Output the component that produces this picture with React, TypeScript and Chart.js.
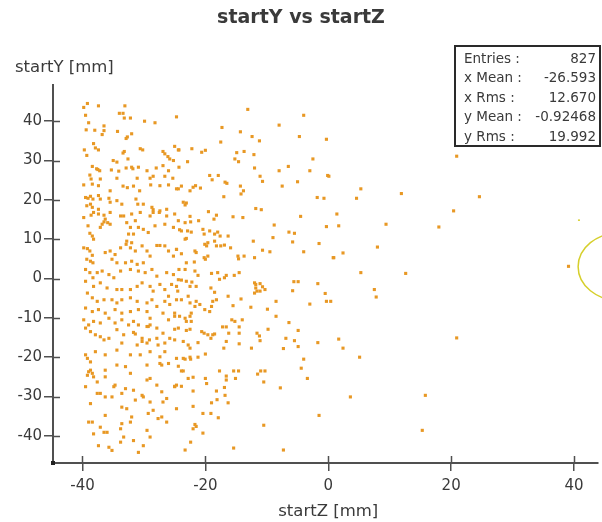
import { useEffect, useRef } from "react";
import { Chart, registerables } from "chart.js";

Chart.register(...registerables);

// ---- text ----
const chartTitle = "startY vs startZ";
const xTitle = "startZ [mm]";
const yTitle = "startY [mm]";

// ---- axes ----
const xRange = [-44.8, 43.9];
const yRange = [-46.9, 49.2];
const xTickValues = [-40, -20, 0, 20, 40];
const yTickValues = [-40, -30, -20, -10, 0, 10, 20, 30, 40];

// ---- statistics box ----
const statLabels = ["Entries :", "x Mean :", "x Rms :", "y Mean :", "y Rms :"];
const statValues = ["827", "-26.593", "12.670", "-0.92468", "19.992"];

// ---- hits: [startZ, startY] in mm ----
const hitsUpperBack: [number, number][] = [
  [-39.2,44.5],[-39.8,43.5],[-37.4,43.9],[-33.1,43.9],[-39.5,41.5],[-34.0,42],[-33.4,42],[-33.2,40.8],[-32.2,40.8],[-29.9,40],
  [-28.2,39.6],[-39.0,39.6],[-39.4,37.8],[-38.0,37.7],[-36.5,38.8],[-36.5,37.6],[-36.8,36.6],[-34.3,37.4],[-32.0,36.8],[-32.7,36.0],
  [-32.9,35.6],[-39.7,32.7],[-38.2,34.3],[-37.9,33.2],[-37.4,32.7],[-33.2,32.3],[-33.4,31.9],[-30.6,33.0],[-30.2,32.7],[-26.9,32.3],
  [-26.6,31.7],[-26.1,31.0],[-25.8,30.4],[-25.0,33.6],[-24.4,32.7],[-39.3,31.3],[-35.0,30.0],[-34.4,29.6],[-32.6,30.4],[-37.7,27.9],
  [-37.5,27.7],[-37.2,27.4],[-38.4,28.5],[-35.3,27.6],[-34.1,27.3],[-32.9,28.1],[-32.0,28.3],[-31.8,27.9],[-30.9,28.3],[-29.5,27.4],
  [-28.0,28.1],[-26.9,28.7],[-26.0,27.4],[-25.2,30.0],[-24.3,28.3],[-38.8,26.3],[-38.6,25.3],[-37.1,25.3],[-34.4,25.5],[-31.1,25.5],
  [-29.0,25.5],[-28.5,26.0],[-26.6,26.0],[-25.3,25.5],[-39.8,23.8],[-38.4,24.0],[-37.4,23.6],[-33.4,23.5],[-32.7,23.1],[-31.7,23.5],
  [-30.7,22.3],[-28.9,23.8],[-27.4,23.6],[-26.0,23.8],[-24.7,22.8],[-35.5,22.3],[-39.5,20.6],[-39.1,20.4],[-38.7,20.9],[-38.3,20.2],
  [-37.4,21.1],[-37.1,20.2],[-35.7,20.4],[-35.5,19.4],[-34.4,19.8],[-33.6,18.9],[-31.3,20.2],[-31.0,18.9],[-30.1,18.9],[-28.7,18.1],
  [-28.5,17.5],[-27.5,16.8],[-26.3,17.6],[-39.3,18.5],[-38.7,18.9],[-38.4,18.1],[-37.4,17.6],[-36.5,16.1],[-35.5,16.8],[-33.3,15.9],
  [-32.0,16.4],[-30.6,16.8],[-29.0,15.9],
];

const hitsMiddleBack: [number, number][] = [
  [-39.8,15.5],[-38.6,16.1],[-38.2,16.8],[-36.8,13.8],[-36.5,14.4],[-36.3,15.1],[-35.9,14.2],[-35.5,13.8],[-37.4,16.4],[-37.1,13.0],
  [-39.1,13.4],[-38.8,11.5],[-38.4,10.8],[-38.2,10.0],[-33.8,15.9],[-32.8,14.2],[-32.2,13.0],[-31.4,14.7],[-32.5,11.3],[-31.7,11.3],
  [-32.8,9.5],[-32.0,9.1],[-30.9,13.0],[-30.1,12.5],[-29.3,11.7],[-28.5,16.8],[-27.4,17.2],[-26.3,15.9],[-25.0,16.4],[-24.4,14.7],
  [-28.2,13.4],[-26.6,13.8],[-25.2,13.0],[-39.8,7.8],[-39.2,7.6],[-38.8,7.0],[-38.4,5.9],[-39.3,4.9],[-38.7,4.4],[-38.3,4.0],
  [-36.3,6.6],[-35.5,7.0],[-34.7,6.1],[-35.2,4.9],[-34.4,4.0],[-33.8,7.8],[-32.9,8.7],[-32.2,7.8],[-31.4,7.0],[-30.3,8.3],
  [-29.5,7.0],[-29.0,5.7],[-27.9,8.4],[-27.4,8.4],[-26.6,8.3],[-26.0,7.0],[-25.2,5.7],[-24.7,7.4],[-33.0,4.0],[-32.0,4.4],
  [-31.1,3.6],[-30.1,4.0],[-39.5,2.3],[-38.8,1.5],[-38.3,0.2],[-37.6,1.5],[-36.8,1.9],[-35.7,1.0],[-34.9,0.2],[-33.8,1.9],
  [-32.2,2.3],[-30.9,1.9],[-29.8,1.5],[-28.7,2.3],[-27.9,0.6],[-26.3,1.5],[-25.2,1.0],[-39.5,-0.7],[-38.2,-2.0],[-37.1,-1.1],
  [-36.0,-2.4],[-34.4,-2.8],[-33.6,-2.8],[-32.2,-2.8],[-31.1,-2.0],[-30.3,-1.1],[-29.0,-2.0],[-28.5,-3.2],[-27.4,-1.5],[-26.6,-2.8],
  [-26.0,-4.5],[-25.5,-1.5],[-39.2,-3.7],[-38.4,-4.9],[-37.6,-5.8],[-36.5,-5.4],[-35.2,-5.4],[-34.4,-6.2],[-33.6,-5.4],[-32.2,-4.9],
  [-31.1,-5.8],[-29.5,-6.2],[-28.7,-5.4],[-27.9,-7.1],[-26.6,-5.8],[-25.8,-6.6],[-24.7,-5.4],[-39.5,-7.5],[-38.4,-8.4],[-37.4,-7.9],
  [-36.3,-8.8],[-34.7,-7.9],[-33.6,-8.8],[-32.2,-8.4],[-30.9,-7.9],[-29.5,-8.4],[-29.0,-10.1],[-26.9,-8.8],[-26.0,-10.5],[-25.0,-9.6],
  [-39.8,-10.5],[-39.0,-11.8],[-38.2,-10.9],[-37.1,-11.3],[-35.7,-10.1],[-34.7,-11.3],[-33.6,-10.5],[-32.5,-11.8],[-31.7,-10.9],[-30.9,-11.8],
  [-29.5,-12.2],[-29.0,-11.8],[-27.9,-12.6],[-39.5,-12.6],[-38.7,-13.5],[-37.9,-14.3],[-37.1,-14.8],[-34.4,-13.0],[-33.3,-14.3],[-31.7,-13.7],
  [-31.4,-14.1],[-30.3,-15.2],[-29.3,-12.2],[-26.9,-13.9],
];

const hitsLowerBack: [number, number][] = [
  [-33.6,-16.4],[-31.1,-16.9],[-30.3,-16.0],[-29.5,-16.4],[-27.7,-16.9],[-26.6,-16.4],[-25.8,-15.2],[-25.0,-15.6],[-36.5,-15.6],[-35.7,-15.2],
  [-27.9,-15.2],[-29.1,-15.6],[-39.5,-19.4],[-39.2,-20.3],[-38.7,-21.2],[-37.9,-18.6],[-36.3,-19.4],[-34.4,-18.2],[-32.2,-19.4],[-30.6,-19.4],
  [-29.0,-18.6],[-27.4,-19.9],[-26.6,-18.6],[-24.7,-20.3],[-39.0,-23.7],[-38.7,-23.3],[-38.4,-24.1],[-38.2,-25.0],[-39.2,-24.6],[-36.3,-23.3],
  [-36.3,-25.0],[-34.4,-22.0],[-33.0,-22.4],[-32.2,-24.1],[-29.5,-22.0],[-27.4,-21.6],[-27.1,-22.0],[-26.0,-21.6],[-37.6,-26.3],[-34.7,-27.1],
  [-34.9,-27.5],[-33.6,-29.2],[-33.0,-28.0],[-31.7,-28.4],[-31.4,-30.9],[-29.5,-25.8],[-29.0,-25.4],[-27.9,-27.1],[-27.1,-28.8],[-25.0,-27.5],
  [-24.7,-27.1],[-39.5,-27.5],[-37.6,-29.2],[-37.1,-29.2],[-38.7,-31.8],[-36.3,-30.1],[-35.2,-30.1],[-30.3,-29.7],[-30.1,-30.1],[-29.0,-31.4],
  [-26.9,-31.4],[-26.3,-30.5],[-36.3,-34.8],[-33.6,-32.7],[-32.8,-33.1],[-32.0,-35.2],[-29.3,-34.3],[-28.5,-33.5],[-27.7,-35.6],[-27.1,-35.2],
  [-26.3,-36.5],[-24.7,-33.1],[-39.0,-36.5],[-38.4,-36.5],[-37.1,-37.8],[-38.2,-39.5],[-36.5,-39.1],[-36.0,-39.1],[-33.8,-38.2],[-33.6,-36.9],
  [-32.2,-36.5],[-29.5,-38.6],[-33.3,-40.3],[-31.7,-41.2],[-30.1,-42.5],[-33.8,-41.6],[-37.4,-42.5],[-35.7,-42.9],[-35.2,-43.7],[-30.9,-44.2],
  [-29.0,-40.3],
];

const hitsUpperMid: [number, number][] = [
  [-13.1,43.0],[-4.0,41.5],[-24.7,41.1],[-8.0,39.0],[-17.3,38.4],[-14.3,37.3],[-12.4,36.1],[-11.2,35.0],[-4.7,36.1],[-0.3,35.4],
  [-17.5,34.7],[-24.3,32.7],[-22.2,33.0],[-20.6,32.1],[-20.0,32.6],[-14.9,32.0],[-13.7,32.3],[-12.1,31.5],[-15.2,30.4],[-14.6,29.7],
  [-22.9,29.7],[-2.5,30.4],[-12.0,28.1],[-8.0,27.4],[-6.5,28.5],[-3.0,27.4],[-19.3,26.2],[-17.9,26.2],[-18.9,25.1],[-11.1,26.0],
  [-10.7,24.7],[-0.1,26.2],[-16.8,24.5],[-16.5,24.2],[-5.0,24.6],[-7.5,23.5],[-24.4,22.8],[-23.9,23.5],[-22.5,22.3],[-22.0,23.2],
  [-21.6,23.6],[-20.8,23.0],[-14.3,23.5],[-13.8,22.3],[-14.2,21.5],[-17.0,20.8],[-1.8,20.6],[-0.7,20.4],[-23.6,19.4],[-23.3,18.7],
  [-23.1,19.2],[-19.5,17.0],[-18.2,16.1],[-18.6,15.1],[-15.5,15.7],[-13.9,15.5],[-11.8,17.8],[-10.9,17.5],[-4.5,15.8],[-22.5,15.8],
  [-22.4,14.4],[-23.3,14.2],[-21.1,14.7],[-8.8,13.6],[-0.3,13.2],[-24.2,12.4],[-23.9,12.1],[-22.9,12.1],[-22.3,11.8],[-20.4,12.5],
  [-20.2,11.3],[-19.3,12.1],[-18.5,11.3],[-18.0,11.8],[-17.6,10.8],[-16.3,10.8],[-12.2,9.5],[-9.0,10.4],[-6.4,11.8],[-5.5,11.5],
  [-5.8,9.3],[-1.5,8.9],[-23.3,10.0],[-23.1,10.2],[-24.7,7.4],[-23.9,6.3],[-21.7,7.0],[-21.5,6.6],[-20.1,8.7],[-19.8,8.3],
  [-19.6,9.1],[-18.5,9.5],[-18.2,8.3],[-17.5,8.3],[-16.9,8.5],[-15.9,7.8],[-14.7,5.7],[-14.6,5.0],[-13.7,5.7],[-12.0,5.3],
  [-10.7,7.2],[-9.5,6.8],[-4.0,6.8],[0.8,5.3],[-23.1,4.0],[-21.8,4.2],[-20.2,5.3],[-20.0,4.9],[-19.6,5.7],[-21.7,1.9],
  [-19.0,1.3],[-18.0,1.5],[-16.6,0.8],[-15.3,0.8],[-14.5,1.5],[-24.3,2.3],[-23.3,2.3],
];

const hitsLowerMid: [number, number][] = [
  [-24.4,-0.3],[-23.9,-0.4],[-23.1,-0.7],[-22.2,-0.9],[-21.2,0.8],[-17.7,-0.2],[-16.9,0.2],[-24.7,-2.0],[-24.5,-3.2],[-22.5,-2.0],
  [-21.5,-2.0],[-19.1,-2.4],[-18.5,-3.5],[-12.0,-1.1],[-11.8,-1.5],[-11.1,-1.3],[-10.7,-2.1],[-12.0,-3.7],[-11.6,-3.2],[-11.1,-3.2],
  [-10.3,-2.8],[-11.8,-2.4],[-5.6,-0.8],[-4.9,-0.8],[-1.7,-1.3],[-5.8,-3.1],[-0.5,-3.8],[-0.3,-5.8],[-3.0,-6.5],[-23.9,-5.4],
  [-22.8,-4.5],[-22.5,-6.2],[-21.5,-5.8],[-20.9,-6.6],[-21.7,-7.1],[-20.1,-7.9],[-19.3,-8.4],[-19.0,-7.1],[-18.8,-5.8],[-18.2,-5.4],
  [-16.3,-4.5],[-15.5,-6.9],[-14.2,-5.2],[-12.6,-7.3],[-9.9,-7.8],[-8.5,-5.8],[-8.5,-9.6],[-6.4,-11.2],[-4.9,-13.2],[-6.9,-15.2],
  [-5.5,-15.8],[-4.9,-17.3],[-7.3,-17.8],[-1.7,-16.3],[-25.0,-8.8],[-24.2,-9.6],[-23.3,-10.1],[-22.5,-9.6],[-22.3,-8.8],[-23.1,-10.9],
  [-22.3,-10.9],[-25.0,-12.9],[-24.4,-12.6],[-23.1,-13.2],[-22.5,-12.9],[-20.6,-13.5],[-20.2,-13.9],[-19.6,-14.3],[-19.1,-15.2],[-18.8,-14.3],
  [-18.5,-14.1],[-17.2,-12.3],[-16.6,-12.3],[-15.7,-10.5],[-15.2,-10.9],[-14.0,-10.5],[-16.2,-13.9],[-14.5,-13.9],[-14.5,-12.3],[-11.6,-13.9],
  [-11.2,-14.6],[-11.1,-15.8],[-9.8,-12.9],[-23.6,-16.0],[-22.8,-16.9],[-22.5,-17.7],[-21.2,-16.3],[-20.0,-19.2],[-16.6,-16.0],[-17.0,-17.7],
  [-14.5,-16.6],[-12.5,-17.7],[-23.6,-20.3],[-23.3,-20.5],[-22.5,-20.0],[-22.4,-20.5],[-21.2,-20.0],[-24.4,-22.3],[-23.9,-23.5],[-23.6,-23.5],
  [-25.0,-27.4],[-23.9,-27.4],[-22.8,-25.4],[-22.0,-25.1],[-20.0,-25.4],[-19.8,-26.7],[-17.7,-23.5],[-15.4,-23.5],[-14.6,-23.5],[-16.6,-24.8],
  [-16.6,-25.8],[-15.1,-25.4],[-11.5,-24.3],[-11.0,-23.5],[-10.3,-23.5],[-10.5,-26.3],[-7.8,-27.8],[-3.4,-25.4],[-4.4,-22.8],[-4.0,-20.5],
  [-22.0,-28.6],[-18.2,-28.6],[-16.9,-27.7],[-16.8,-29.7],[-18.1,-30.8],[-19.0,-31.6],[-16.3,-31.6],[-22.0,-32.5],[-20.4,-34.3],[-19.1,-34.3],
  [-17.9,-35.4],[-21.7,-37.1],[-21.5,-37.6],[-22.0,-38.2],[-20.4,-39.3],[-22.4,-41.6],[-23.3,-43.6],[-15.4,-43.1],[-10.5,-37.3],[-7.3,-43.6],
  [-1.5,-34.8],
];

const hitsFront: [number, number][] = [
  [20.9,31.1],[0.1,26.0],[5.3,22.8],[4.6,20.4],[11.9,21.6],[24.6,20.8],[20.4,17.2],[1.4,16.4],[1.7,13.4],[9.4,13.8],
  [18.0,13.1],[8.0,8.0],[2.4,6.5],[0.9,5.3],[5.3,1.5],[12.6,1.3],[39.1,3.1],[7.5,-2.8],[7.8,-4.7],[0.4,-5.8],
  [20.9,-15.1],[1.7,-15.4],[2.4,-17.7],[5.1,-20.0],[15.8,-29.7],[3.6,-30.1],[15.3,-38.6],
];

const hits = [
  ...hitsUpperBack,
  ...hitsMiddleBack,
  ...hitsLowerBack,
  ...hitsUpperMid,
  ...hitsLowerMid,
  ...hitsFront,
];

// ---- style ----
const FONT = '"DejaVu Sans", "Liberation Sans", sans-serif';
const AXIS_COLOR = "#505050";
const TEXT_COLOR = "#3a3a3a";
const MARKER_COLOR = "rgb(232,152,36)";

const decorPlugin = {
  id: "decor",
  afterDraw(chart: any) {
    const { ctx, chartArea, scales } = chart;
    const xs = scales.x;
    const ys = scales.y;
    ctx.save();

    // inward half of the tick marks
    ctx.strokeStyle = AXIS_COLOR;
    ctx.lineWidth = 1.5;
    ctx.beginPath();
    xTickValues.forEach((v) => {
      const px = Math.round(xs.getPixelForValue(v)) + 0.5;
      ctx.moveTo(px, chartArea.bottom);
      ctx.lineTo(px, chartArea.bottom - 7);
    });
    yTickValues.forEach((v) => {
      const py = Math.round(ys.getPixelForValue(v)) + 0.5;
      ctx.moveTo(chartArea.left, py);
      ctx.lineTo(chartArea.left + 7, py);
    });
    ctx.stroke();

    // corner marker where the axes meet
    ctx.fillStyle = "#222";
    ctx.fillRect(chartArea.left - 2, chartArea.bottom - 2, 4, 4);

    // titles
    ctx.fillStyle = TEXT_COLOR;
    ctx.textBaseline = "middle";
    ctx.textAlign = "center";
    ctx.font = `bold 19px ${FONT}`;
    ctx.fillText(chartTitle, 301, 18);
    ctx.font = `16.5px ${FONT}`;
    ctx.fillText(xTitle, xs.getPixelForValue(0), 512);
    ctx.textAlign = "left";
    ctx.fillText(yTitle, 15, 68);

    // statistics box
    const bx = 455, by = 46, bw = 145, bh = 100;
    ctx.fillStyle = "#fff";
    ctx.fillRect(bx, by, bw, bh);
    ctx.strokeStyle = "#2a2a2a";
    ctx.lineWidth = 2;
    ctx.strokeRect(bx, by, bw, bh);
    ctx.fillStyle = TEXT_COLOR;
    ctx.font = `13.5px ${FONT}`;
    statLabels.forEach((label, i) => {
      const ty = 59 + i * 19.5;
      ctx.textAlign = "left";
      ctx.fillText(label, bx + 9, ty);
      ctx.textAlign = "right";
      ctx.fillText(statValues[i], bx + bw - 4, ty);
    });

    // highlight ring at the right edge
    const cx = xs.getPixelForValue(47.5);
    const cy = ys.getPixelForValue(3);
    ctx.strokeStyle = "#d6cf2c";
    ctx.lineWidth = 1.5;
    ctx.beginPath();
    ctx.ellipse(cx, cy, 42, 34, 0, 0, Math.PI * 2);
    ctx.stroke();
    ctx.fillStyle = "#d6cf2c";
    ctx.fillRect(xs.getPixelForValue(40.8) - 1, ys.getPixelForValue(14.9) - 0.5, 2, 1.5);

    ctx.restore();
  },
};

export default function App() {
  const canvasRef = useRef<HTMLCanvasElement | null>(null);

  useEffect(() => {
    const canvas = canvasRef.current;
    if (!canvas) return;
    const tickFont = { family: FONT, size: 15 };
    const chart = new Chart(canvas, {
      type: "scatter",
      data: {
        datasets: [
          {
            data: hits.map(([z, y]) => ({ x: z, y })),
            backgroundColor: MARKER_COLOR,
            borderWidth: 0,
            pointStyle: "rect",
            pointRadius: 2.2,
          },
        ],
      },
      options: {
        responsive: false,
        animation: false,
        events: [],
        layout: { padding: { top: 85, left: 0, right: 0, bottom: 0 } },
        plugins: {
          legend: { display: false },
          title: { display: false },
          tooltip: { enabled: false },
        },
        scales: {
          x: {
            type: "linear",
            position: "bottom",
            min: xRange[0],
            max: xRange[1],
            afterBuildTicks: (s: any) => {
              s.ticks = xTickValues.map((v) => ({ value: v }));
            },
            afterFit: (s: any) => {
              s.height = 59;
            },
            grid: {
              drawOnChartArea: false,
              drawTicks: true,
              tickLength: 8,
              color: AXIS_COLOR,
              lineWidth: 1.5,
            },
            border: { display: true, color: AXIS_COLOR, width: 2 },
            ticks: {
              font: tickFont,
              color: TEXT_COLOR,
              padding: 6,
              maxRotation: 0,
              autoSkip: false,
              includeBounds: false,
            },
          },
          y: {
            type: "linear",
            position: "left",
            min: yRange[0],
            max: yRange[1],
            afterBuildTicks: (s: any) => {
              s.ticks = yTickValues.map((v) => ({ value: v }));
            },
            afterFit: (s: any) => {
              s.width = 53;
            },
            grid: {
              drawOnChartArea: false,
              drawTicks: true,
              tickLength: 9,
              color: AXIS_COLOR,
              lineWidth: 1.5,
            },
            border: { display: true, color: AXIS_COLOR, width: 2 },
            ticks: {
              font: tickFont,
              color: TEXT_COLOR,
              padding: 2,
              autoSkip: false,
              includeBounds: false,
            },
          },
        },
      },
      plugins: [decorPlugin],
    });
    return () => chart.destroy();
  }, []);

  return (
    <div
      style={{
        position: "fixed",
        left: 0,
        top: 0,
        width: 602,
        height: 522,
        background: "#fff",
      }}
    >
      <canvas ref={canvasRef} width={602} height={522} style={{ display: "block" }} />
    </div>
  );
}
